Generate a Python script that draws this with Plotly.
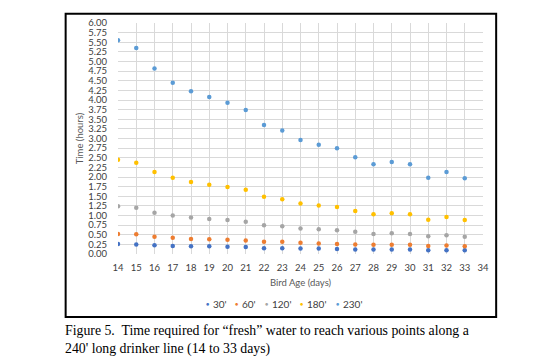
import plotly.graph_objects as go

days = list(range(14, 34))
s30 = [0.26, 0.25, 0.23, 0.21, 0.20, 0.20, 0.19, 0.18, 0.15, 0.15, 0.14, 0.14, 0.13, 0.12, 0.12, 0.12, 0.12, 0.10, 0.10, 0.10]
s60 = [0.52, 0.51, 0.45, 0.42, 0.39, 0.38, 0.37, 0.35, 0.32, 0.32, 0.29, 0.27, 0.26, 0.25, 0.24, 0.24, 0.24, 0.21, 0.22, 0.20]
s120 = [1.24, 1.20, 1.07, 1.00, 0.95, 0.91, 0.88, 0.84, 0.75, 0.72, 0.66, 0.64, 0.62, 0.58, 0.52, 0.54, 0.52, 0.46, 0.49, 0.45]
s180 = [2.45, 2.37, 2.13, 1.98, 1.87, 1.80, 1.74, 1.67, 1.49, 1.42, 1.31, 1.26, 1.22, 1.12, 1.03, 1.06, 1.03, 0.89, 0.96, 0.88]
s230 = [5.55, 5.35, 4.82, 4.45, 4.23, 4.08, 3.93, 3.74, 3.35, 3.21, 2.96, 2.84, 2.75, 2.51, 2.33, 2.39, 2.33, 1.98, 2.13, 1.97]
names = ["30'", "60'", "120'", "180'", "230'"]
colors = ["#4472C4", "#ED7D31", "#A5A5A5", "#FFC000", "#5B9BD5"]
y_ticks = [i * 0.25 for i in range(25)]
x_ticks = list(range(14, 35))

fig = go.Figure()
for name, vals, c in zip(names, [s30, s60, s120, s180, s230], colors):
    fig.add_trace(go.Scatter(x=days, y=vals, mode="markers", name=name, showlegend=False,
                             marker=dict(color=c, size=4.5, line=dict(width=0))))

L, R, T, B = 117.5, 483.5, 23.3, 254.0
W, H = R - L, B - T
def px(x): return (x - L) / W
def py(y): return (B - y) / H

font = "Lato, 'Open Sans', sans-serif"
fig.update_layout(
    width=544, height=361,
    margin=dict(l=L, r=544 - R, t=T, b=361 - B, pad=0),
    paper_bgcolor="white", plot_bgcolor="white",
    font=dict(family=font, size=9, color="#595959"),
    xaxis=dict(range=[14, 34], tickvals=x_ticks, ticktext=[str(v) for v in x_ticks],
               showgrid=True, gridcolor="#D9D9D9", gridwidth=1, zeroline=False,
               showline=False, ticks="", ticklabelstandoff=6,
               tickfont=dict(size=9.5, color="#404040"),
               title=dict(text="Bird Age (days)", font=dict(size=9.5, color="#595959"), standoff=7)),
    yaxis=dict(range=[0, 6], tickvals=y_ticks, ticktext=[f"{v:.2f}" for v in y_ticks],
               showgrid=True, gridcolor="#D9D9D9", gridwidth=1, zeroline=False,
               showline=False, ticks="", ticklabelstandoff=10,
               tickfont=dict(size=9.5, color="#404040"),
               title=dict(text="Time (hours)", font=dict(size=9.5, color="#595959"), standoff=2)),
    showlegend=False,
)

# legend row (symbols + series names)
legend_x = [206.7, 236.0, 266.0, 301.0, 336.7]
for name, c, lx in zip(names, colors, legend_x):
    fig.add_annotation(xref="paper", yref="paper", x=px(lx - 3), y=py(304), xanchor="left",
                       yanchor="middle", showarrow=False,
                       text=f"<span style='color:{c}'>\u25cf</span>",
                       font=dict(size=5.5, color=c))
    fig.add_annotation(xref="paper", yref="paper", x=px(lx + 4), y=py(304), xanchor="left",
                       yanchor="middle", showarrow=False, text=name,
                       font=dict(size=10, color="#404040"))

# chart border
fig.add_shape(type="rect", xref="paper", yref="paper",
              x0=px(65), x1=px(496.7), y0=py(317), y1=py(14),
              line=dict(color="black", width=2), fillcolor="rgba(0,0,0,0)", layer="above")

fig.add_annotation(xref="paper", yref="paper", x=px(62.5), y=py(321), xanchor="left", yanchor="top",
                   align="left", showarrow=False,
                   text="Figure 5.  Time required for \u201cfresh\u201d water to reach various points along a<br>240' long drinker line (14 to 33 days)",
                   font=dict(family="'Liberation Serif', 'Times New Roman', serif", size=13.8, color="black"))

fig.write_html("out.html", config={"displayModeBar": False},
               post_script="document.body.style.margin='0';")
